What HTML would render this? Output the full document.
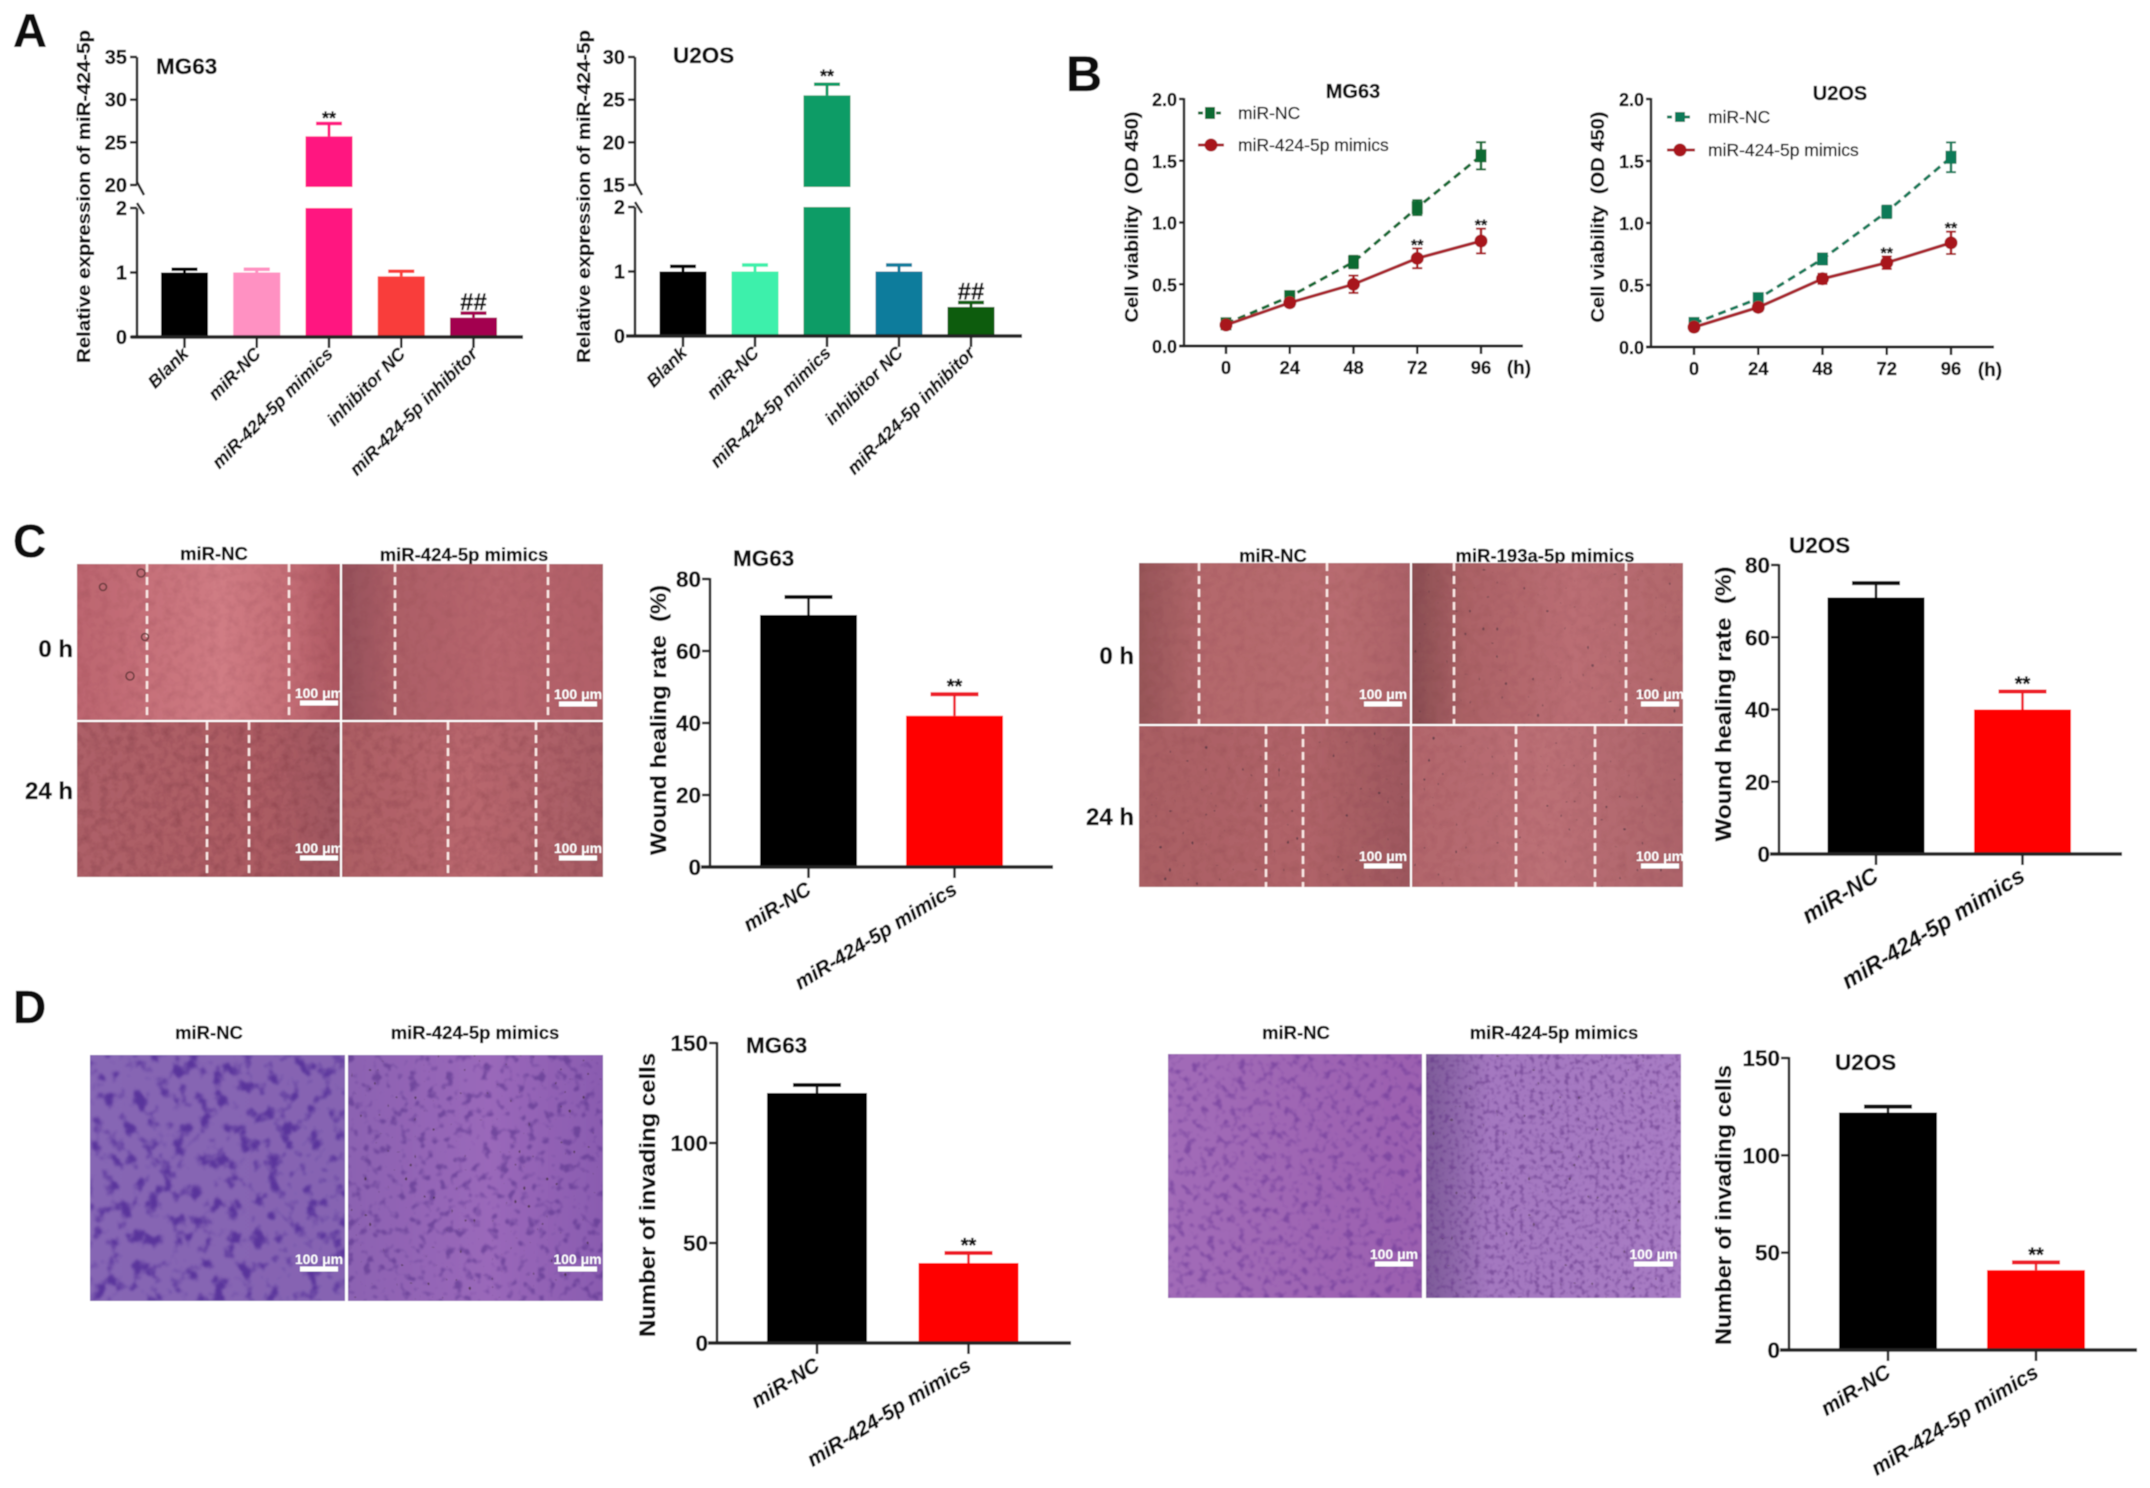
<!DOCTYPE html>
<html lang="en">
<head>
<meta charset="utf-8">
<title>miR-424-5p figure</title>
<style>
html,body{margin:0;padding:0;background:#fff;width:2150px;height:1488px;overflow:hidden}
svg{display:block;font-family:"Liberation Sans",Arial,sans-serif}
text{fill:#111;stroke:#111;stroke-width:.3}
.bold{font-weight:bold}
.ytitle{font-weight:bold;text-anchor:middle}
.imglabel{font-weight:bold;font-size:18.5px;text-anchor:middle}
</style>
</head>
<body>
<svg id="figure" xmlns="http://www.w3.org/2000/svg" width="2150" height="1488" viewBox="0 0 2150 1488">
<defs>
  <linearGradient id="g-c1" x1="0" x2="1" y1="0" y2="0"><stop offset="0" stop-color="#bc656f"/><stop offset=".55" stop-color="#d07c84"/><stop offset=".8" stop-color="#c46e76"/><stop offset="1" stop-color="#ad5761"/></linearGradient>
  <linearGradient id="g-c2" x1="0" x2="1" y1="0" y2="0"><stop offset="0" stop-color="#94505a"/><stop offset=".2" stop-color="#ac5e66"/><stop offset=".6" stop-color="#b8666e"/><stop offset="1" stop-color="#b16068"/></linearGradient>
  <linearGradient id="g-c3" x1="0" x2="1" y1="0" y2="0"><stop offset="0" stop-color="#ae6068"/><stop offset=".7" stop-color="#ac5c63"/><stop offset="1" stop-color="#a05760"/></linearGradient>
  <linearGradient id="g-c4" x1="0" x2="1" y1="0" y2="0"><stop offset="0" stop-color="#ac5e64"/><stop offset=".5" stop-color="#b9676e"/><stop offset="1" stop-color="#a65c64"/></linearGradient>
  <linearGradient id="g-u1" x1="0" x2="1" y1="0" y2="0"><stop offset="0" stop-color="#975558"/><stop offset=".25" stop-color="#b4686c"/><stop offset=".75" stop-color="#b86c70"/><stop offset="1" stop-color="#ac6268"/></linearGradient>
  <linearGradient id="g-u2" x1="0" x2="1" y1="0" y2="0"><stop offset="0" stop-color="#8a4e52"/><stop offset=".2" stop-color="#ac6266"/><stop offset=".6" stop-color="#bb6e74"/><stop offset="1" stop-color="#b2686c"/></linearGradient>
  <linearGradient id="g-u3" x1="0" x2="1" y1="0" y2="0"><stop offset="0" stop-color="#aa5f64"/><stop offset=".6" stop-color="#b16469"/><stop offset="1" stop-color="#9e585e"/></linearGradient>
  <linearGradient id="g-u4" x1="0" x2="1" y1="0" y2="0"><stop offset="0" stop-color="#b2666c"/><stop offset=".5" stop-color="#bc7076"/><stop offset="1" stop-color="#ac646a"/></linearGradient>
  <linearGradient id="g-p1" x1="0" x2="1" y1="0" y2="0"><stop offset="0" stop-color="#8666b4"/><stop offset="1" stop-color="#8664b2"/></linearGradient>
  <linearGradient id="g-p2" x1="0" x2="1" y1="0" y2="0"><stop offset="0" stop-color="#8c62b2"/><stop offset=".55" stop-color="#9a68ba"/><stop offset="1" stop-color="#8a5cb0"/></linearGradient>
  <linearGradient id="g-p3" x1="0" x2="1" y1="0" y2="0"><stop offset="0" stop-color="#a26cb8"/><stop offset="1" stop-color="#9c60b0"/></linearGradient>
  <linearGradient id="g-p4" x1="0" x2="1" y1="0" y2="0"><stop offset="0" stop-color="#7c5a98"/><stop offset=".25" stop-color="#a478c0"/><stop offset="1" stop-color="#a87cc4"/></linearGradient>
  <filter id="tex-pink" x="0" y="0" width="100%" height="100%" color-interpolation-filters="sRGB"><feTurbulence type="fractalNoise" baseFrequency=".11" numOctaves="3" seed="4"/><feColorMatrix values="0 0 0 0 .35  0 0 0 0 .1  0 0 0 0 .15  1.6 0 0 0 -.62"/></filter>
  <filter id="tex-cells" x="0" y="0" width="100%" height="100%" color-interpolation-filters="sRGB"><feTurbulence type="fractalNoise" baseFrequency=".075 .065" numOctaves="3" seed="7"/><feColorMatrix values="0 0 0 0 .31  0 0 0 0 .16  0 0 0 0 .59  5 0 0 0 -2.6"/><feGaussianBlur stdDeviation="1"/></filter>
  <filter id="tex-cells2" x="0" y="0" width="100%" height="100%" color-interpolation-filters="sRGB"><feTurbulence type="fractalNoise" baseFrequency=".11" numOctaves="2" seed="12"/><feColorMatrix values="0 0 0 0 .35  0 0 0 0 .2  0 0 0 0 .55  5 0 0 0 -2.75"/><feGaussianBlur stdDeviation=".8"/></filter>
  <filter id="tex-fine" x="0" y="0" width="100%" height="100%" color-interpolation-filters="sRGB"><feTurbulence type="fractalNoise" baseFrequency=".13" numOctaves="2" seed="21"/><feColorMatrix values="0 0 0 0 .4  0 0 0 0 .2  0 0 0 0 .58  4 0 0 0 -2.05"/><feGaussianBlur stdDeviation=".7"/></filter>
  <filter id="tex-cobble" x="0" y="0" width="100%" height="100%" color-interpolation-filters="sRGB"><feTurbulence type="fractalNoise" baseFrequency=".2" numOctaves="2" seed="33"/><feColorMatrix values="0 0 0 0 .38  0 0 0 0 .2  0 0 0 0 .52  4 0 0 0 -2"/><feGaussianBlur stdDeviation=".6"/></filter>
  <filter id="tex-specks" x="0" y="0" width="100%" height="100%" color-interpolation-filters="sRGB"><feTurbulence type="fractalNoise" baseFrequency=".22" numOctaves="1" seed="9"/><feColorMatrix values="0 0 0 0 .25  0 0 0 0 .17  0 0 0 0 .22  16 0 0 0 -11.6"/></filter>
  <filter id="soft" x="-2%" y="-2%" width="104%" height="104%"><feGaussianBlur stdDeviation=".55"/></filter>
</defs>

<g id="content" filter="url(#soft)">
  <rect x="0" y="0" width="2150" height="1488" fill="#fff"/>

  <text class="bold" x="13" y="47" font-size="47">A</text>
  <text class="bold" x="1066" y="91" font-size="50">B</text>
  <text class="bold" x="13" y="557" font-size="46">C</text>
  <text class="bold" x="13" y="1023" font-size="46">D</text>

  <text class="bold" x="156" y="74" font-size="22.5">MG63</text>
  <text class="bold" x="673" y="63" font-size="22.5">U2OS</text>
  <text class="ytitle" font-size="18" textLength="333" lengthAdjust="spacingAndGlyphs" transform="translate(90 196.5) rotate(-90)">Relative expression of miR-424-5p</text>
  <text class="ytitle" font-size="18" textLength="333" lengthAdjust="spacingAndGlyphs" transform="translate(590 196.5) rotate(-90)">Relative expression of miR-424-5p</text>

  <text class="bold" x="1353" y="98" font-size="20" text-anchor="middle">MG63</text>
  <text class="bold" x="1840" y="100" font-size="20" text-anchor="middle">U2OS</text>
  <text class="ytitle" font-size="18.5" textLength="211" lengthAdjust="spacingAndGlyphs" transform="translate(1138 217) rotate(-90)">Cell viability&#160;&#160;(OD 450)</text>
  <text class="ytitle" font-size="18.5" textLength="211" lengthAdjust="spacingAndGlyphs" transform="translate(1604 217) rotate(-90)">Cell viability&#160;&#160;(OD 450)</text>
  <text class="bold" x="1519" y="374" font-size="19" text-anchor="middle">(h)</text>
  <text class="bold" x="1990" y="376" font-size="19" text-anchor="middle">(h)</text>

  <g>
    <line x1="1198" x2="1222" y1="113" y2="113" stroke="#0c6a30" stroke-width="3" stroke-dasharray="5 4"/>
    <rect x="1205" y="107" width="10" height="12" fill="#0c6a30"/>
    <text x="1238" y="119" font-size="17.5">miR-NC</text>
    <line x1="1198" x2="1224" y1="145" y2="145" stroke="#a8222a" stroke-width="3"/>
    <circle cx="1211" cy="145" r="6.5" fill="#a8121c"/>
    <text x="1238" y="151" font-size="17.5">miR-424-5p mimics</text>
  </g>
  <g>
    <line x1="1667" x2="1693" y1="117" y2="117" stroke="#0e7a58" stroke-width="3" stroke-dasharray="5 4"/>
    <rect x="1675" y="112" width="10" height="10" fill="#0e7a58"/>
    <text x="1708" y="123" font-size="17.5">miR-NC</text>
    <line x1="1667" x2="1695" y1="150" y2="150" stroke="#a8222a" stroke-width="3"/>
    <circle cx="1680" cy="150" r="6.5" fill="#a8121c"/>
    <text x="1708" y="156" font-size="17.5">miR-424-5p mimics</text>
  </g>

  <text class="imglabel" x="214" y="560">miR-NC</text>
  <text class="imglabel" x="464" y="561">miR-424-5p mimics</text>
  <text class="bold" x="73" y="657" font-size="24" text-anchor="end">0 h</text>
  <text class="bold" x="73" y="799" font-size="24" text-anchor="end">24 h</text>
  <text class="imglabel" x="1273" y="562">miR-NC</text>
  <text class="imglabel" x="1545" y="562">miR-193a-5p mimics</text>
  <text class="bold" x="1134" y="664" font-size="24" text-anchor="end">0 h</text>
  <text class="bold" x="1134" y="825" font-size="24" text-anchor="end">24 h</text>

  <text class="bold" x="733" y="566" font-size="22.5">MG63</text>
  <text class="bold" x="1789" y="553" font-size="22.5">U2OS</text>
  <text class="ytitle" font-size="22" textLength="270" lengthAdjust="spacingAndGlyphs" transform="translate(666 720) rotate(-90)">Wound healing rate&#160;&#160;(%)</text>
  <text class="ytitle" font-size="22" textLength="275" lengthAdjust="spacingAndGlyphs" transform="translate(1731 704) rotate(-90)">Wound healing rate&#160;&#160;(%)</text>

  <text class="imglabel" x="209" y="1039">miR-NC</text>
  <text class="imglabel" x="475" y="1039">miR-424-5p mimics</text>
  <text class="imglabel" x="1296" y="1039">miR-NC</text>
  <text class="imglabel" x="1554" y="1039">miR-424-5p mimics</text>

  <text class="bold" x="746" y="1053" font-size="22.5">MG63</text>
  <text class="bold" x="1835" y="1070" font-size="22.5">U2OS</text>
  <text class="ytitle" font-size="22" textLength="284" lengthAdjust="spacingAndGlyphs" transform="translate(655 1195) rotate(-90)">Number of invading cells</text>
  <text class="ytitle" font-size="22" textLength="280" lengthAdjust="spacingAndGlyphs" transform="translate(1731 1205) rotate(-90)">Number of invading cells</text>

  <g id="photos"></g>
  <g id="charts"></g>
</g>
</svg>

<script>
// ---------- Panel A data ----------
const aCategories = ['Blank', 'miR-NC', 'miR-424-5p mimics', 'inhibitor NC', 'miR-424-5p inhibitor'];
const aMgValues = [1.0, 1.0, 25.7, 0.94, 0.3];
const aMgErrors = [0.05, 0.05, 1.5, 0.08, 0.07];
const aMgMarks = ['', '', '**', '', '##'];
const aU2Values = [1.0, 1.0, 25.5, 1.0, 0.45];
const aU2Errors = [0.08, 0.1, 1.3, 0.1, 0.07];
const aU2Marks = ['', '', '**', '', '##'];
const aMgLowTicks = ['0', '1', '2'];
const aMgHighTicks = ['20', '25', '30', '35'];
const aU2LowTicks = ['0', '1', '2'];
const aU2HighTicks = ['15', '20', '25', '30'];

// ---------- Panel B data ----------
const bHours = ['0', '24', '48', '72', '96'];
const bTicks = ['0.0', '0.5', '1.0', '1.5', '2.0'];
const bMgNc = [0.18, 0.40, 0.68, 1.12, 1.54];
const bMgNcErr = [0.02, 0.03, 0.05, 0.06, 0.11];
const bMgMimics = [0.17, 0.35, 0.50, 0.71, 0.85];
const bMgMimicsErr = [0.02, 0.03, 0.07, 0.08, 0.10];
const bMgMarks = ['', '', '', '**', '**'];
const bU2Nc = [0.19, 0.39, 0.71, 1.09, 1.53];
const bU2NcErr = [0.02, 0.03, 0.04, 0.05, 0.12];
const bU2Mimics = [0.16, 0.32, 0.55, 0.68, 0.84];
const bU2MimicsErr = [0.03, 0.03, 0.04, 0.05, 0.09];
const bU2Marks = ['', '', '', '**', '**'];

// ---------- Panels C, D data ----------
const pairCategories = ['miR-NC', 'miR-424-5p mimics'];
const pairMarks = ['', '**'];
const cTicks = ['0', '20', '40', '60', '80'];
const cMgValues = [70, 42];
const cMgErrors = [5, 6];
const cU2Values = [71, 40];
const cU2Errors = [4, 5];
const dTicks = ['0', '50', '100', '150'];
const dMgValues = [125, 40];
const dMgErrors = [4, 5];
const dU2Values = [122, 41];
const dU2Errors = [3, 4];

// ---------- Helpers ----------
const NS = 'http://www.w3.org/2000/svg';
function mk(parent, tag, name, attrs, text) {
  const el = document.createElementNS(NS, tag);
  
  
  for (const k in attrs) el.setAttribute(k, attrs[k]);
  if (text !== undefined) el.textContent = text;
  parent.appendChild(el);
  return el;
}
function linearScale(dMin, dMax, pMin, pMax) {
  return v => pMin + (v - dMin) / (dMax - dMin) * (pMax - pMin);
}
function brokenScale(low, high) {
  const lo = linearScale(low.min, low.max, low.base, low.top);
  const hi = linearScale(high.min, high.max, high.base, high.top);
  const f = v => v <= low.max ? lo(v) : (v < high.min ? low.top : hi(v));
  f.lo = lo; f.hi = hi;
  return f;
}
const AXIS = '#222';
function catAxisLabels(g, cats, xOf, baseY, opt) {
  cats.forEach((c, i) => {
    const x = xOf(i);
    mk(g, 'line', 'x-tick', {x1: x, x2: x, y1: baseY, y2: baseY + opt.tick, stroke: AXIS, 'stroke-width': 2.5});
    mk(g, 'text', 'x-tick-label', {
      'font-size': opt.size, 'font-weight': 'bold', 'font-style': 'italic', 'text-anchor': 'end',
      transform: 'translate(' + (x + opt.dx) + ' ' + (baseY + opt.dy) + ') rotate(' + (-opt.angle) + ')'
    }, c);
  });
}
function drawMark(g, text, x, y, size) {
  if (!text) return;
  mk(g, 'text', text === '**' ? 'significance-stars' : 'significance-hashes', {
    x: x, y: y, 'font-size': size, 'font-weight': 'bold', 'text-anchor': 'middle'
  }, text);
}
function errorCap(g, x, yBar, yTop, halfCap, color, w, capW) {
  mk(g, 'line', 'error-stem', {x1: x, x2: x, y1: yBar, y2: yTop, stroke: color, 'stroke-width': w});
  mk(g, 'line', 'error-cap', {x1: x - halfCap, x2: x + halfCap, y1: yTop, y2: yTop, stroke: color, 'stroke-width': capW});
}

// Broken-axis bar chart (panel A)
function drawBrokenBars(name, cfg, values, errors, marks, lowTicks, highTicks) {
  const g = mk(document.getElementById('charts'), 'g', name, {});
  const y = brokenScale(cfg.low, cfg.high);
  const xOf = i => cfg.first + i * cfg.step;
  values.forEach((v, i) => {
    const x = xOf(i), col = cfg.colors[i];
    const bar = mk(g, 'g', 'bar-' + aCategories[i].toLowerCase().replace(/\s+/g, '-'), {});
    mk(bar, 'rect', 'bar-lower', {x: x - cfg.width / 2, width: cfg.width, y: y(Math.min(v, cfg.low.max)), height: cfg.low.base - y(Math.min(v, cfg.low.max)), fill: col});
    if (v > cfg.high.min) {
      mk(bar, 'rect', 'bar-upper', {x: x - cfg.width / 2, width: cfg.width, y: y(v), height: y.hi(cfg.high.min) + 2 - y(v), fill: col});
    }
    const top = v + errors[i];
    errorCap(bar, x, y(v), y(top), 13, col, 3, 3.5);
    if (marks[i] === '**') drawMark(g, marks[i], x, y(top) + cfg.starDy, 18);
    if (marks[i] === '##') drawMark(g, marks[i], x, y(top) - 3, 24);
  });
  const ax = cfg.axisX;
  mk(g, 'line', 'y-axis-lower', {x1: ax, x2: ax, y1: cfg.low.base + 1, y2: cfg.low.top, stroke: AXIS, 'stroke-width': 2.5});
  mk(g, 'line', 'y-axis-upper', {x1: ax, x2: ax, y1: cfg.high.base, y2: cfg.high.top, stroke: AXIS, 'stroke-width': 2.5});
  mk(g, 'line', 'axis-break-top', {x1: ax, x2: ax + 7, y1: y.hi(cfg.high.min) - 3, y2: y.hi(cfg.high.min) + 10, stroke: AXIS, 'stroke-width': 2.5});
  mk(g, 'line', 'axis-break-bottom', {x1: ax, x2: ax + 7, y1: cfg.low.top - 5, y2: cfg.low.top + 6, stroke: AXIS, 'stroke-width': 2.5});
  lowTicks.forEach(t => {
    const py = y.lo(+t);
    mk(g, 'line', 'y-tick', {x1: ax - 7, x2: ax, y1: py, y2: py, stroke: AXIS, 'stroke-width': 2.5});
    mk(g, 'text', 'y-tick-label', {x: ax - 10, y: py + 7, 'font-size': 20, 'font-weight': 'bold', 'text-anchor': 'end'}, t);
  });
  highTicks.forEach(t => {
    const py = y.hi(+t);
    mk(g, 'line', 'y-tick', {x1: ax - 7, x2: ax, y1: py, y2: py, stroke: AXIS, 'stroke-width': 2.5});
    mk(g, 'text', 'y-tick-label', {x: ax - 10, y: py + 7, 'font-size': 20, 'font-weight': 'bold', 'text-anchor': 'end'}, t);
  });
  mk(g, 'line', 'x-axis', {x1: cfg.xStart, x2: cfg.xEnd, y1: cfg.low.base, y2: cfg.low.base, stroke: AXIS, 'stroke-width': 3.5});
  catAxisLabels(g, aCategories, xOf, cfg.low.base, {tick: 11, dx: 5, dy: 18, angle: 45, size: 17.8});
}

// Two-bar chart (panels C, D)
function drawPairBars(name, cfg, values, errors, ticks) {
  const g = mk(document.getElementById('charts'), 'g', name, {});
  const y = linearScale(0, cfg.max, cfg.base, cfg.top);
  const xOf = i => cfg.first + i * cfg.step;
  values.forEach((v, i) => {
    const x = xOf(i), col = i === 0 ? '#000' : '#ff0000';
    const bar = mk(g, 'g', i === 0 ? 'bar-mir-nc' : 'bar-mimics', {});
    mk(bar, 'rect', 'bar-fill', {x: x - cfg.width / 2, width: cfg.width, y: y(v), height: cfg.base - y(v), fill: col});
    const top = v + errors[i];
    errorCap(bar, x, y(v), y(top), 24, i === 0 ? '#111' : '#ee1c25', 2.5, 4);
    if (pairMarks[i]) drawMark(g, pairMarks[i], x, y(top) - 1, 20);
  });
  const ax = cfg.axisX;
  mk(g, 'line', 'y-axis', {x1: ax, x2: ax, y1: cfg.base + 1, y2: cfg.top - 1, stroke: AXIS, 'stroke-width': 2.5});
  ticks.forEach(t => {
    const py = y(+t);
    mk(g, 'line', 'y-tick', {x1: ax - 8, x2: ax, y1: py, y2: py, stroke: AXIS, 'stroke-width': 2.5});
    mk(g, 'text', 'y-tick-label', {x: ax - 9, y: py + 8, 'font-size': 22.5, 'font-weight': 'bold', 'text-anchor': 'end'}, t);
  });
  mk(g, 'line', 'x-axis', {x1: ax - 9, x2: cfg.xEnd, y1: cfg.base, y2: cfg.base, stroke: AXIS, 'stroke-width': 3.5});
  catAxisLabels(g, pairCategories, xOf, cfg.base, {tick: 11, dx: 4, dy: 26, angle: 31.5, size: cfg.labelSize});
}

// Line chart (panel B)
function drawLines(name, cfg, nc, ncErr, mim, mimErr, marks) {
  const g = mk(document.getElementById('charts'), 'g', name, {});
  const y = linearScale(0, 2, cfg.base, cfg.top);
  const x = linearScale(0, 96, cfg.x0, cfg.x96);
  const ax = cfg.axisX;
  mk(g, 'line', 'y-axis', {x1: ax, x2: ax, y1: cfg.base + 1, y2: cfg.top - 1, stroke: AXIS, 'stroke-width': 2.5});
  bTicks.forEach(t => {
    const py = y(+t);
    mk(g, 'line', 'y-tick', {x1: ax - 5, x2: ax, y1: py, y2: py, stroke: AXIS, 'stroke-width': 2.5});
    mk(g, 'text', 'y-tick-label', {x: ax - 7, y: py + 7, 'font-size': 18, 'font-weight': 'bold', 'text-anchor': 'end'}, t);
  });
  mk(g, 'line', 'x-axis', {x1: ax - 5, x2: cfg.xEnd, y1: cfg.base, y2: cfg.base, stroke: AXIS, 'stroke-width': 3});
  bHours.forEach(h => {
    const px = x(+h);
    mk(g, 'line', 'x-tick', {x1: px, x2: px, y1: cfg.base, y2: cfg.base + 8, stroke: AXIS, 'stroke-width': 2.5});
    mk(g, 'text', 'x-tick-label', {x: px, y: cfg.base + 28, 'font-size': 18.5, 'font-weight': 'bold', 'text-anchor': 'middle'}, h);
  });
  const pts = arr => arr.map((v, i) => x(+bHours[i]) + ',' + y(v)).join(' ');
  mk(g, 'polyline', 'series-mir-nc-line', {points: pts(nc), fill: 'none', stroke: cfg.ncColor, 'stroke-width': 3, 'stroke-dasharray': '8 5'});
  mk(g, 'polyline', 'series-mimics-line', {points: pts(mim), fill: 'none', stroke: '#a8272e', 'stroke-width': 3.2});
  nc.forEach((v, i) => {
    const px = x(+bHours[i]);
    mk(g, 'line', 'mir-nc-error-bar', {x1: px, x2: px, y1: y(v - ncErr[i]), y2: y(v + ncErr[i]), stroke: cfg.ncColor, 'stroke-width': 2.5});
    [v - ncErr[i], v + ncErr[i]].forEach(e => {
      mk(g, 'line', 'mir-nc-error-cap', {x1: px - 5, x2: px + 5, y1: y(e), y2: y(e), stroke: cfg.ncColor, 'stroke-width': 2});
    });
    mk(g, 'rect', 'mir-nc-point', {x: px - 5.5, y: y(v) - 6.5, width: 11, height: 13, fill: cfg.ncColor});
  });
  mim.forEach((v, i) => {
    const px = x(+bHours[i]);
    mk(g, 'line', 'mimics-error-bar', {x1: px, x2: px, y1: y(v - mimErr[i]), y2: y(v + mimErr[i]), stroke: '#a8121c', 'stroke-width': 2.5});
    [v - mimErr[i], v + mimErr[i]].forEach(e => {
      mk(g, 'line', 'mimics-error-cap', {x1: px - 5, x2: px + 5, y1: y(e), y2: y(e), stroke: '#a8121c', 'stroke-width': 2});
    });
    mk(g, 'circle', 'mimics-point', {cx: px, cy: y(v), r: 6.5, fill: '#a8121c'});
    if (marks[i]) drawMark(g, marks[i], px, y(v + mimErr[i]) + 2, 16);
  });
}

// Micrographs (not chart data)
function photo(name, x, y, w, h, grad, tex, texOpacity, dashes, bar, specks) {
  const g = mk(document.getElementById('photos'), 'g', name, {});
  mk(g, 'rect', 'photo-base', {x: x, y: y, width: w, height: h, fill: 'url(#' + grad + ')'});
  mk(g, 'rect', 'photo-texture', {x: x, y: y, width: w, height: h, filter: 'url(#' + tex + ')', opacity: texOpacity});
  if (specks) {
    mk(g, 'rect', 'photo-specks', {x: x, y: y, width: w, height: h, filter: 'url(#tex-specks)', opacity: specks});
  }
  dashes.forEach(dx => {
    mk(g, 'line', 'scratch-edge-line', {x1: dx, x2: dx, y1: y, y2: y + h, stroke: '#fbe9e6', 'stroke-width': 2.5, 'stroke-dasharray': '8 5'});
  });
  mk(g, 'rect', 'scale-bar', {x: bar[0], y: bar[2] - 2.5, width: bar[1] - bar[0], height: 5, fill: '#fff'});
  const label = mk(g, 'text', 'scale-bar-label', {x: (bar[0] + bar[1]) / 2, y: bar[2] - 5, 'font-size': 14, 'font-weight': 'bold', 'text-anchor': 'middle'}, '100 \u03bcm');
  label.style.fill = '#fff';
  label.style.stroke = 'none';
  return g;
}
function ring(g, cx, cy, r) {
  mk(g, 'circle', 'cell-ring', {cx: cx, cy: cy, r: r, fill: 'none', stroke: '#6e3c40', 'stroke-width': 1.6});
}

// C left
const cTL = photo('c-left-nc-0h', 77, 564, 263, 156, 'g-c1', 'tex-pink', .15, [147, 289], [300, 338, 703]);
ring(cTL, 141, 573, 4); ring(cTL, 103, 587, 3.5); ring(cTL, 145, 637, 3.5); ring(cTL, 130, 676, 4);
photo('c-left-mimics-0h', 342, 564, 261, 156, 'g-c2', 'tex-pink', .12, [395, 548], [559, 597, 704]);
photo('c-left-nc-24h', 77, 722, 263, 155, 'g-c3', 'tex-pink', .3, [207, 249], [300, 338, 858]);
photo('c-left-mimics-24h', 342, 722, 261, 155, 'g-c4', 'tex-pink', .25, [448, 536], [559, 597, 858]);
// C right
photo('c-right-nc-0h', 1139, 563, 271, 161, 'g-u1', 'tex-pink', .12, [1199, 1327], [1364, 1402, 704]);
photo('c-right-mimics-0h', 1412, 563, 271, 161, 'g-u2', 'tex-pink', .12, [1454, 1626], [1641, 1679, 704], .5);
photo('c-right-nc-24h', 1139, 726, 271, 161, 'g-u3', 'tex-pink', .15, [1266, 1303], [1364, 1402, 866], .6);
photo('c-right-mimics-24h', 1412, 726, 271, 161, 'g-u4', 'tex-pink', .12, [1516, 1595], [1641, 1679, 866], .6);
// D left
photo('d-left-nc', 90, 1055, 255, 246, 'g-p1', 'tex-cells', .8, [], [300, 338, 1269]);
photo('d-left-mimics', 348, 1055, 255, 246, 'g-p2', 'tex-cells2', .6, [], [558, 597, 1269], .7);
// D right
photo('d-right-nc', 1168, 1054, 254, 244, 'g-p3', 'tex-fine', .55, [], [1375, 1413, 1264]);
photo('d-right-mimics', 1426, 1054, 255, 244, 'g-p4', 'tex-cobble', .55, [], [1634, 1673, 1264], .5);

// ---------- Charts ----------
drawBrokenBars('chart-a-mg63', {
  axisX: 137, xStart: 131, xEnd: 523, first: 184.5, step: 72.25, width: 47, starDy: 1,
  low: {min: 0, max: 2, base: 337, top: 208},
  high: {min: 20, max: 35, base: 185, top: 57},
  colors: ['#000000', '#ff91c2', '#ff1480', '#f93d3a', '#a3004f']
}, aMgValues, aMgErrors, aMgMarks, aMgLowTicks, aMgHighTicks);

drawBrokenBars('chart-a-u2os', {
  axisX: 635, xStart: 626, xEnd: 1022, first: 683, step: 72, width: 47, starDy: -2,
  low: {min: 0, max: 2, base: 336, top: 207},
  high: {min: 15, max: 30, base: 185, top: 57},
  colors: ['#000000', '#3df0ab', '#0e9c66', '#0e7b9c', '#0a5c0a']
}, aU2Values, aU2Errors, aU2Marks, aU2LowTicks, aU2HighTicks);

drawLines('chart-b-mg63', {axisX: 1184, xEnd: 1523, x0: 1226, x96: 1481, base: 346, top: 99, ncColor: '#0c6a30'},
  bMgNc, bMgNcErr, bMgMimics, bMgMimicsErr, bMgMarks);
drawLines('chart-b-u2os', {axisX: 1651, xEnd: 1994, x0: 1694, x96: 1951, base: 347, top: 99, ncColor: '#0e7a58'},
  bU2Nc, bU2NcErr, bU2Mimics, bU2MimicsErr, bU2Marks);

drawPairBars('chart-c-mg63', {axisX: 710, xEnd: 1053, first: 808.5, step: 146, width: 97, base: 867, top: 579, max: 80, labelSize: 20.4},
  cMgValues, cMgErrors, cTicks);
drawPairBars('chart-c-u2os', {axisX: 1779, xEnd: 2122, first: 1876, step: 146.5, width: 97, base: 854, top: 565, max: 80, labelSize: 23},
  cU2Values, cU2Errors, cTicks);
drawPairBars('chart-d-mg63', {axisX: 717, xEnd: 1071, first: 817, step: 151.5, width: 100, base: 1343, top: 1043, max: 150, labelSize: 20.6},
  dMgValues, dMgErrors, dTicks);
drawPairBars('chart-d-u2os', {axisX: 1789, xEnd: 2137, first: 1888, step: 148, width: 98, base: 1350, top: 1058, max: 150, labelSize: 21},
  dU2Values, dU2Errors, dTicks);
</script>
</body>
</html>
